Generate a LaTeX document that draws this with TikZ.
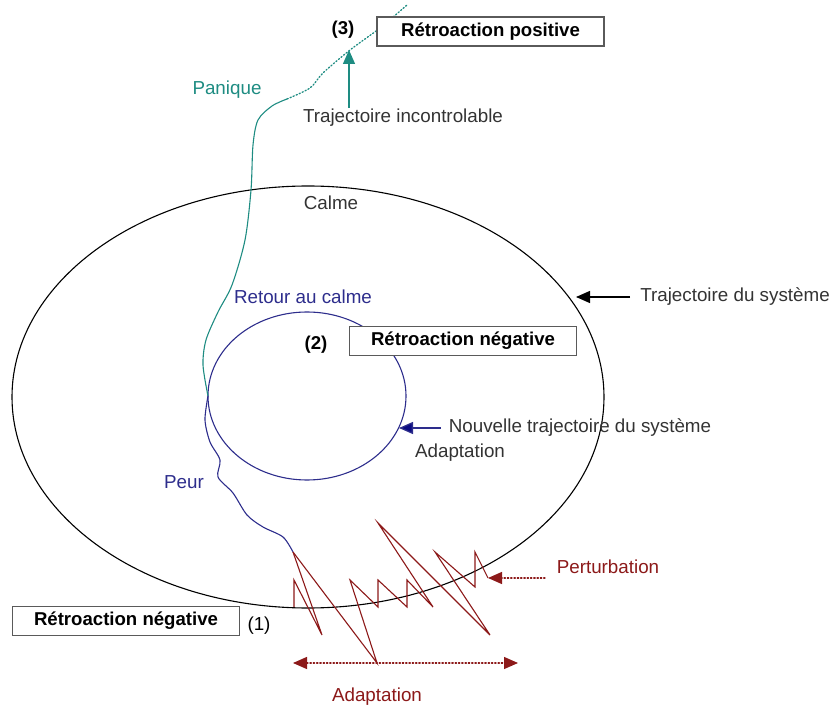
\documentclass[tikz,border=0pt]{standalone}
\usepackage{fontspec}
\setmainfont{Liberation Sans}
\usetikzlibrary{arrows.meta}
\definecolor{txtgray}{RGB}{51,51,51}
\definecolor{boxgray}{RGB}{90,90,90}
\definecolor{panteal}{RGB}{30,140,130}
\definecolor{peurblue}{RGB}{45,45,140}
\definecolor{headblue}{RGB}{10,10,130}
\definecolor{pertred}{RGB}{140,25,25}
\begin{document}
\begin{tikzpicture}[
        x=1pt, y=-1pt,
        txt/.style={font=\fontsize{18.8}{22}\selectfont, text=txtgray, inner sep=0pt},
        fbbox/.style={draw=boxgray, line width=1.5pt, fill=white, minimum width=227pt, minimum height=29pt, inner sep=0pt, font=\fontsize{18.6}{22}\selectfont\bfseries},
        num/.style={font=\fontsize{18.6}{22}\selectfont\bfseries, inner sep=0pt},
        pointer/.style={line width=1.3pt, -{Triangle[length=14pt, width=12pt]}},
        dotline/.style={line width=1.3pt, dotted, line cap=round}
    ]
        \useasboundingbox (0,0) rectangle (833,708);

        % trajectories
        \draw[line width=1.1pt] (308,397) ellipse [x radius=296pt, y radius=211pt];
        \draw[peurblue, line width=1.1pt] (307,396) ellipse [x radius=99pt, y radius=84pt];

        \draw[panteal, line width=1.1pt] plot[smooth] coordinates {(208,396) (203,365) (206,340) (218,312) (232,285) (245,240) (251,190) (253,145) (258,120) (272,106) (287,99)};
        \draw[panteal, dotline] plot[smooth] coordinates {(287,99) (310,88) (323,73) (350,50) (380,28) (407,5)};
        \draw[peurblue, line width=1.1pt] plot[smooth] coordinates {(208,396) (205,420) (210,442) (220,460) (218,477) (233,493) (247,515) (263,527) (283,537) (293,552)};

        % perturbation
        \draw[pertred, line width=1.1pt, line join=miter] (293,552) -- (322,635) -- (294,580) -- (294,607);
        \draw[pertred, line width=1.1pt, line join=miter] (293,552) -- (377,663) -- (350,580) -- (378,607) -- (378,580)
            -- (407,607) -- (407,580) -- (433,607) -- (378,523) -- (490,635) -- (435,552)
            -- (475,587) -- (475,552) -- (488,578) coordinate (pend);

        % labels
        \node[txt, text=panteal] (panique) at (227,90) {Panique};
        \node[txt] (calme) at (331,203) {Calme};
        \node[txt, text=peurblue] (retour) at (303,297) {Retour au calme};
        \node[txt, text=peurblue] (peur) at (184,482) {Peur};
        \node[txt] (incontr) at (403,118) {Trajectoire incontrolable};
        \node[txt] (trajsys) at (735,297) {Trajectoire du système};
        \node[txt] (nouv) at (580,428) {Nouvelle trajectoire du système};
        \node[txt] (adapt) at (460,453) {Adaptation};
        \node[txt, text=pertred] (pert) at (608,567) {Perturbation};
        \node[txt, text=pertred] (adaptb) at (377,697) {Adaptation};

        \node[fbbox] (posbox) at (490.5,31.5) {Rétroaction positive};
        \node[num] (n3) at (343,30) {(3)};
        \node[fbbox] (negbox) at (463,341) {Rétroaction négative};
        \node[num] (n2) at (316,345) {(2)};
        \node[fbbox] (negboxb) at (126,621) {Rétroaction négative};
        \node[txt, text=black] (n1) at (259,626) {(1)};

        % arrows
        \coordinate (tinc) at (349,50);
        \coordinate (tsys) at (576,297);
        \coordinate (tnouv) at (399,429);
        \draw[pointer, panteal] (349,108) -- (tinc);
        \draw[pointer, black] (trajsys.west) ++(-10,0) -- (trajsys.west -| tsys);
        \draw[pointer, peurblue, -{Triangle[length=14pt, width=12pt, fill=headblue]}] (nouv.west) ++(-8,0) -- (nouv.west -| tnouv);
        \draw[pertred, dotline, -{Triangle[length=14pt, width=12pt]}] (545,578) -- (pend);
        \coordinate (al) at (293,663);
        \coordinate (ar) at (518,663);
        \draw[pertred, dotline, {Triangle[length=14pt, width=12pt]}-{Triangle[length=14pt, width=12pt]}] (al) -- (ar);
    \end{tikzpicture}
\end{document}
